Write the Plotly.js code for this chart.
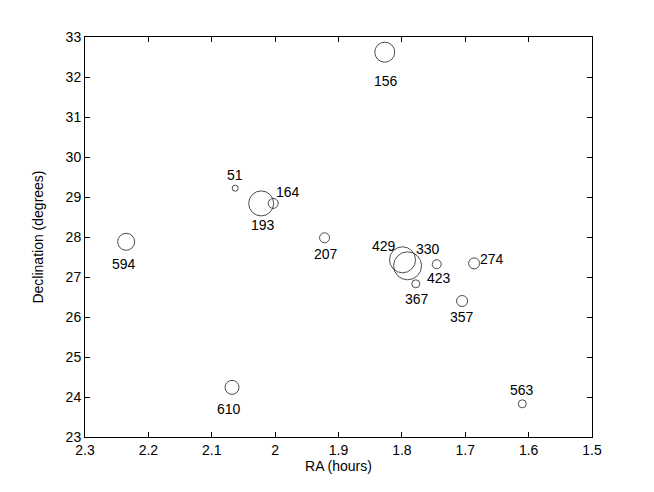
<!DOCTYPE html>
<html>
<head>
<meta charset="utf-8">
<script src="https://cdn.plot.ly/plotly-3.0.1.min.js"></script>
<style>html,body{margin:0;padding:0;background:#fff;}</style>
</head>
<body>
<div id="chart" style="width:654px;height:492px;"></div>
<script>
// Data
var labels = ["156", "51", "193", "164", "207", "594", "610", "563", "429", "330", "423", "274", "367", "357"];
var ra     = [1.827, 2.063, 2.022, 2.003, 1.922, 2.235, 2.068, 1.610, 1.799, 1.791, 1.745, 1.686, 1.778, 1.705];
var dec    = [32.62, 29.22, 28.84, 28.84, 27.98, 27.88, 24.24, 23.83, 27.43, 27.28, 27.32, 27.34, 26.83, 26.40];
var sizes  = [20, 6, 25, 10, 10, 17, 14, 8, 26, 28, 9, 11, 8, 11];

// Label placement (pixel offsets of each label from its circle; styling only)
var labelShift = {
  "156": [1, -29], "51": [0, 13], "193": [2, -22], "164": [15, 11],
  "207": [1, -16], "594": [-2, -22], "610": [-3, -22], "563": [0, 14],
  "429": [-19, 14], "330": [20, 17], "423": [2, -14], "274": [18, 4],
  "367": [1, -15], "357": [0, -16]
};

var fontFam = "Liberation Sans, Arial, Helvetica, sans-serif";
var fsz = 14;

var trace = {
  x: ra, y: dec, mode: "markers", type: "scatter",
  marker: {size: sizes, color: "rgba(0,0,0,0)", line: {color: "#000", width: 1}},
  hoverinfo: "skip", showlegend: false, cliponaxis: false
};

var annotations = labels.map(function(t, i) {
  var s = labelShift[t];
  return {x: ra[i], y: dec[i], xref: "x", yref: "y", text: t, showarrow: false,
          xshift: s[0], yshift: s[1], font: {family: fontFam, size: fsz, color: "#000"}};
});

var axisCommon = {
  showgrid: false, zeroline: false, showline: true, linecolor: "#000", linewidth: 1,
  mirror: "ticks", ticks: "inside", ticklen: 5, tickcolor: "#000", tickwidth: 1,
  tickfont: {family: fontFam, size: fsz, color: "#000"}
};

var layout = {
  width: 654, height: 492,
  margin: {l: 85, r: 62, t: 37, b: 55},
  paper_bgcolor: "#fff", plot_bgcolor: "#fff",
  xaxis: Object.assign({}, axisCommon, {
    range: [2.3, 1.5], dtick: 0.1, tick0: 1.5,
    title: {text: "RA (hours)", font: {family: fontFam, size: fsz, color: "#000"}, standoff: 3}
  }),
  yaxis: Object.assign({}, axisCommon, {
    range: [23, 33], dtick: 1,
    title: {text: "Declination (degrees)", font: {family: fontFam, size: fsz, color: "#000"}, standoff: 18}
  }),
  annotations: annotations
};

Plotly.newPlot("chart", [trace], layout, {displayModeBar: false, staticPlot: true});
</script>
</body>
</html>
